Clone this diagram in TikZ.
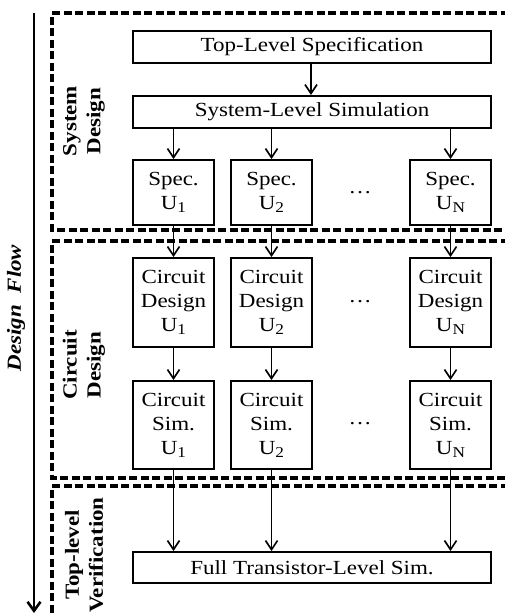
\documentclass[tikz,border=0pt]{standalone}
\usepackage{fontspec}
\setmainfont{Liberation Serif}[FakeStretch=1.15]
\usetikzlibrary{arrows.meta}

\newcommand{\unitsub}[1]{U\raisebox{-0.35ex}{\fontsize{15}{15}\selectfont#1}}

\begin{document}
\begin{tikzpicture}[x=1pt, y=-1pt,
	unitbox/.style={draw, line width=2pt, minimum width=81pt, inner sep=0pt, align=center, font=\fontsize{20}{24}\selectfont},
	widebox/.style={unitbox, minimum width=358pt, minimum height=32pt},
	flow/.style={line width=1.6pt, -{Straight Barb[length=9pt,width=12pt]}},
	frame/.style={line width=3.4pt, dash pattern=on 8pt off 3.5pt},
	phase/.style={rotate=90, align=center, font=\fontsize{20}{24}\selectfont\bfseries},
	]
	
	% Canvas
	\clip (0,0) rectangle (505,614);
	
	%% DESIGN FLOW
	\coordinate (flowtop) at (34,13);
	\coordinate (flowend) at (34,613);
	\draw [line width=2.6pt, -{Straight Barb[length=9pt,width=13pt]}] (flowtop) -- (flowend);
	\node [rotate=90, font=\fontsize{20}{24}\selectfont\bfseries\itshape] (flowlabel) at (16,308) {Design\ \ Flow};
	
	%% FRAMES
	% System Design
	\draw [frame] (520,13) -- (52,13) -- (52,230) -- (520,230);
	\node [phase] (syslabel) at (84,121) {System\\Design};
	% Circuit Design
	\draw [frame] (520,241) -- (52,241) -- (52,478) -- (520,478);
	\node [phase] (cirlabel) at (84,365) {Circuit\\Design};
	% Top-level Verification
	\draw [frame] (520,486) -- (52,486) -- (52,630);
	\node [phase] (verlabel) at (84,555) {Top-level\\Verification};
	
	%% BOXES
	% Top
	\node [widebox] (topspec) at (312,47) {Top-Level Specification};
	\node [widebox] (syssim) at (312,112) {System-Level Simulation};
	\draw [flow] (topspec.south -| 311,0) -- (syssim.north -| 311,0);
	
	% Units
	\foreach \i/\x/\u in {1/173.5/1, 2/271.5/2, 3/450.5/N}
	{
		\node [unitbox, minimum height=65pt] (spec\i) at (\x,192.5) {Spec.\\\unitsub{\u}};
		\node [unitbox, minimum height=89pt] (cdes\i) at (\x,302.5) {Circuit\\Design\\\unitsub{\u}};
		\node [unitbox, minimum height=88pt] (csim\i) at (\x,425) {Circuit\\Sim.\\\unitsub{\u}};
	}
	
	% Dots
	\node (dots1) at (360,193) {\fontsize{20}{24}\selectfont\dots};
	\node (dots2) at (360,302) {\fontsize{20}{24}\selectfont\dots};
	\node (dots3) at (360,424) {\fontsize{20}{24}\selectfont\dots};
	
	% Bottom
	\node [widebox, minimum height=31pt] (fullsim) at (312,567.5) {Full Transistor-Level Sim.};
	
	%% ARROWS
	\foreach \i in {1,2,3}
	{
		\draw [flow] (spec\i |- syssim.south) -- (spec\i.north);
		\draw [flow] (spec\i.south) -- (cdes\i.north);
		\draw [flow] (cdes\i.south) -- (csim\i.north);
		\draw [flow] (csim\i.south) -- (csim\i |- fullsim.north);
	}
	
\end{tikzpicture}
\end{document}
